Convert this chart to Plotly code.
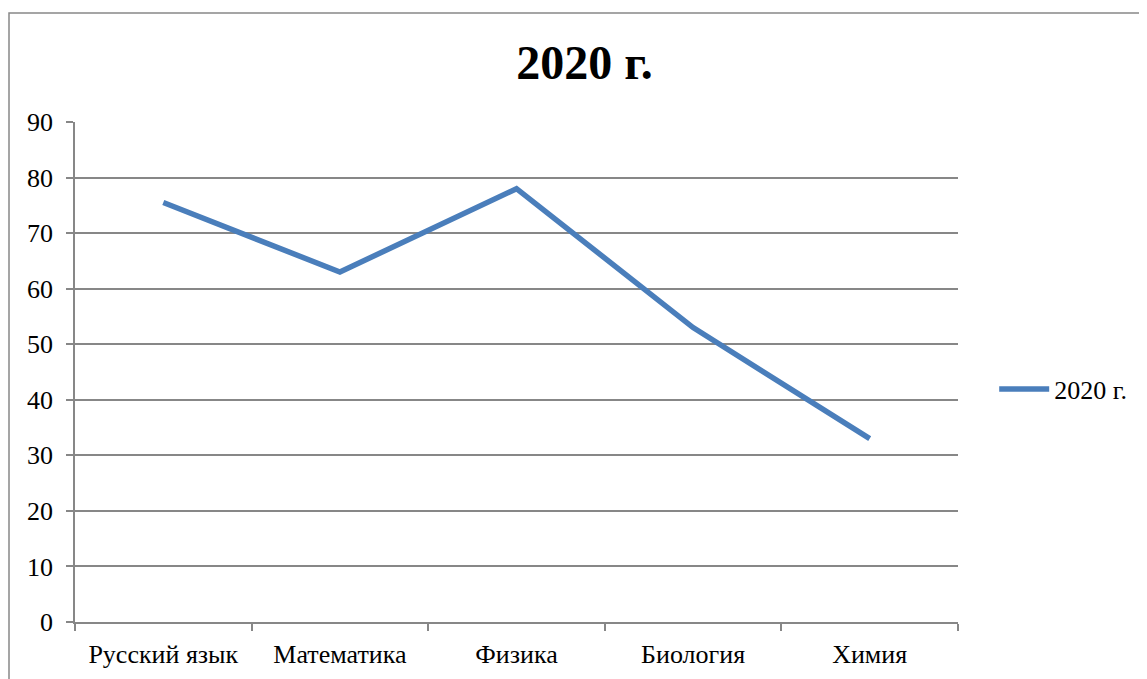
import plotly.graph_objects as go

categories = ["Русский язык", "Математика", "Физика", "Биология", "Химия"]
values_2020 = [75.5, 63, 78, 53, 33]
series_name = "2020 г."
title_text = "2020 г."
y_ticks = [0, 10, 20, 30, 40, 50, 60, 70, 80, 90]

FONT = "Liberation Serif, Times New Roman, serif"
GRID = "#878787"

fig = go.Figure()
fig.add_trace(go.Scatter(
    x=categories, y=values_2020, name=series_name, mode="lines",
    line=dict(color="#4a7ebb", width=5.5),
))

fig.update_layout(
    width=1147, height=679,
    paper_bgcolor="white", plot_bgcolor="white",
    margin=dict(l=67, r=197, t=114, b=65),
    title=dict(text="<b>" + title_text + "</b>", x=(576.5 / 1147), xanchor="center",
               y=1 - 54 / 679, yanchor="middle",
               font=dict(family=FONT, size=48, color="black")),
    font=dict(family=FONT, size=26, color="black"),
    showlegend=True,
    legend=dict(x=1.041, y=(622 - 389) / 500, xanchor="left", yanchor="middle",
                font=dict(family=FONT, size=26, color="black"),
                bgcolor="rgba(0,0,0,0)", itemwidth=50),
    shapes=[dict(type="rect", xref="paper", yref="paper",
                 x0=-66 / 883, x1=1.4, y0=-0.3, y1=609 / 500,
                 line=dict(color="#888888", width=1.5), layer="below")],
)

fig.update_xaxes(
    type="category", showgrid=False, showline=True, linecolor=GRID, linewidth=1.5,
    ticks="outside", ticklen=7, tickcolor=GRID, tickwidth=1.5, tickson="boundaries",
    tickfont=dict(family=FONT, size=26, color="black"), zeroline=False,
    range=[-0.5, 4.5], ticklabelstandoff=8,
)
fig.update_yaxes(
    range=[0, 90], tickvals=y_ticks, showgrid=True, gridcolor=GRID, gridwidth=1.5,
    showline=True, linecolor=GRID, linewidth=1.5, ticks="outside", ticklen=7,
    tickcolor=GRID, tickwidth=1.5, zeroline=False, ticklabelstandoff=8,
    tickfont=dict(family=FONT, size=26, color="black"),
)

fig.write_html("out.html")
